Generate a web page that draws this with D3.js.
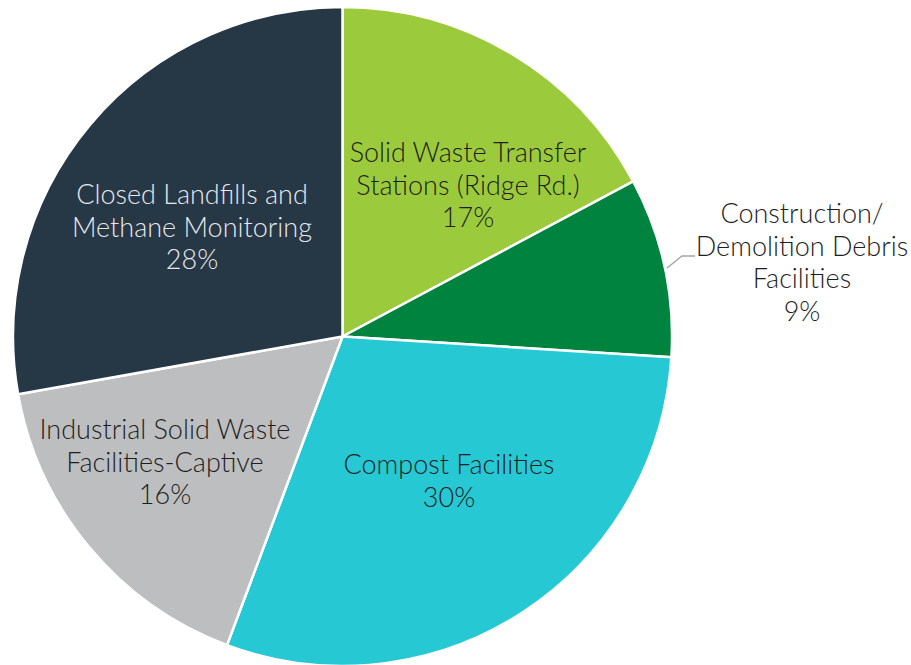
<!DOCTYPE html>
<html>
<head>
<meta charset="utf-8">
<script src="https://cdn.jsdelivr.net/npm/d3@7"></script>
<style>
  html, body { margin: 0; padding: 0; background: #fff; }
  svg { display: block; }
  text { font-family: Lato, "Open Sans", sans-serif; font-weight: 300; }
</style>
</head>
<body>
<svg id="chart" width="911" height="665"></svg>
<script>
const categories = [
  "Solid Waste Transfer Stations (Ridge Rd.)",
  "Construction/ Demolition Debris Facilities",
  "Compost Facilities",
  "Industrial Solid Waste Facilities-Captive",
  "Closed Landfills and Methane Monitoring"
];
const values = [17.2, 8.8, 29.7, 16.5, 27.8];
const percentLabels = ["17%", "9%", "30%", "16%", "28%"];
const labelLines = [
  ["Solid Waste Transfer", "Stations (Ridge Rd.)"],
  ["Construction/", "Demolition Debris", "Facilities"],
  ["Compost Facilities"],
  ["Industrial Solid Waste", "Facilities-Captive"],
  ["Closed Landfills and", "Methane Monitoring"]
];
const colors = ["#9BCB3C", "#00833E", "#26C9D3", "#BDBEC0", "#263746"];
const textColors = ["#1e1e1e", "#1e1e1e", "#1e1e1e", "#1e1e1e", "#E6E8EA"];

const svg = d3.select("#chart");
const cx = 342.5, cy = 336.5, R = 329.5;
const g = svg.append("g").attr("transform", `translate(${cx},${cy})`);

const pie = d3.pie().sort(null).value(d => d);
const arcs = pie(values);
const arc = d3.arc().innerRadius(0).outerRadius(R);

g.selectAll("path.slice")
  .data(arcs)
  .join("path")
  .attr("class", "slice")
  .attr("d", arc)
  .attr("fill", (d, i) => colors[i])
  .attr("stroke", "#fff")
  .attr("stroke-width", 2.5)
  .attr("stroke-linejoin", "round");

const lineH = 32.5;
const fontSize = 27;

const labelPos = [
  { x: 468, y: 162 },
  { x: 802, y: 223 },
  { x: 449, y: 474 },
  { x: 165, y: 439 },
  { x: 192, y: 204 }
];

arcs.forEach((d, i) => {
  const lines = labelLines[i].concat([percentLabels[i]]);
  const t = svg.append("text")
    .attr("text-anchor", "middle")
    .attr("font-size", fontSize)
    .attr("fill", textColors[i]);
  lines.forEach((ln, k) => {
    t.append("tspan")
      .attr("x", labelPos[i].x)
      .attr("y", labelPos[i].y + k * lineH)
      .text(ln);
  });
});

// leader line for the small construction slice
svg.append("polyline")
  .attr("points", [[667, 268], [682, 256], [695, 256]].map(p => p.join(",")).join(" "))
  .attr("fill", "none")
  .attr("stroke", "#A6A6A6")
  .attr("stroke-width", 1.5);
</script>
</body>
</html>
